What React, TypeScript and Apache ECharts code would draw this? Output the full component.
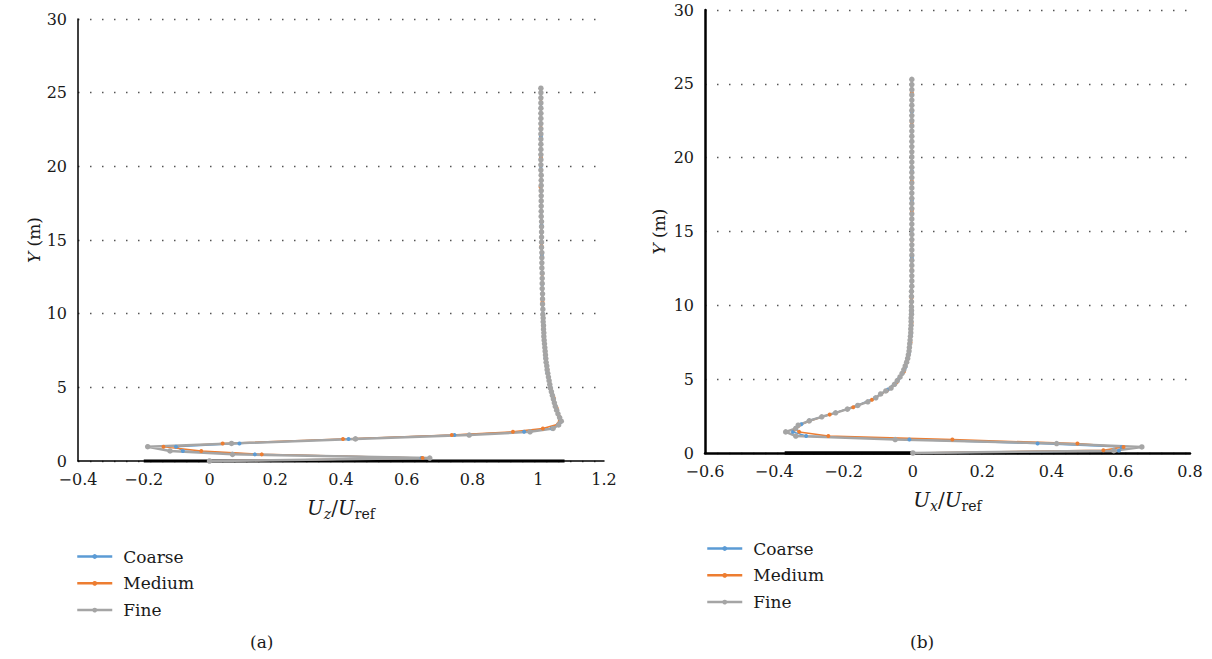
import React, { useEffect, useRef } from "react";
import * as echarts from "echarts";

const seriesNames = ["Coarse", "Medium", "Fine"];
const colors = ["#5B9BD5", "#ED7D31", "#A5A5A5"];
const captions = ["(a)", "(b)"];

// Panel (a): Uz/Uref vs Y
const uzCoarse = [
  [0, 0], [0.645, 0.2], [0.138, 0.45], [-0.081, 0.68], [-0.102, 0.97], [0.091, 1.19], [0.423, 1.5], [0.745, 1.76],
  [0.957, 1.98], [1.041, 2.21], [1.066, 2.6], [1.06, 3.2], [1.048, 4.0], [1.037, 5.0], [1.028, 6.0], [1.022, 7.0],
  [1.017, 8.5], [1.014, 10], [1.012, 12], [1.011, 14], [1.01, 16], [1.009, 18], [1.008, 20], [1.008, 22], [1.008, 24], [1.008, 25.3],
];
const uzMedium = [
  [0, 0], [0.648, 0.2], [0.159, 0.45], [-0.025, 0.68], [-0.14, 0.97], [0.04, 1.19], [0.406, 1.5], [0.737, 1.76],
  [0.923, 1.98], [1.014, 2.21], [1.06, 2.5], [1.064, 3.0], [1.056, 3.6], [1.047, 4.3], [1.036, 5.2], [1.028, 6.2],
  [1.021, 7.4], [1.016, 9.0], [1.013, 10.8], [1.012, 12.7], [1.01, 14.6], [1.009, 16.6], [1.007, 18.6], [1.008, 20.6],
  [1.008, 22.6], [1.008, 24.6], [1.008, 25.3],
];
const uzFine = [
  [0, 0], [0.67, 0.2], [0.07, 0.45], [-0.12, 0.68], [-0.188, 0.97], [0.067, 1.19], [0.444, 1.5], [0.79, 1.76],
  [0.975, 1.98], [1.045, 2.21], [1.062, 2.45], [1.07, 2.7],
  [1.065, 2.95], [1.06, 3.2], [1.056, 3.45], [1.052, 3.7], [1.049, 3.95], [1.046, 4.2], [1.043, 4.45], [1.04, 4.7],
  [1.037, 4.95], [1.035, 5.2], [1.033, 5.45], [1.031, 5.7], [1.029, 5.95], [1.027, 6.2], [1.026, 6.45], [1.024, 6.7],
  [1.023, 6.95], [1.022, 7.2], [1.021, 7.45], [1.02, 7.7], [1.019, 7.95], [1.018, 8.2], [1.017, 8.45], [1.017, 8.7],
  [1.016, 8.95], [1.016, 9.2], [1.015, 9.45], [1.015, 9.7], [1.014, 9.95],
  [1.014, 10.3], [1.013, 10.65], [1.013, 11.0], [1.013, 11.35], [1.012, 11.7], [1.012, 12.05], [1.012, 12.4], [1.012, 12.75],
  [1.011, 13.1], [1.011, 13.45], [1.011, 13.8], [1.011, 14.15], [1.01, 14.5], [1.01, 14.85], [1.01, 15.2], [1.01, 15.55],
  [1.01, 15.9], [1.01, 16.25], [1.009, 16.6], [1.009, 16.95], [1.009, 17.3], [1.009, 17.65], [1.009, 18.0], [1.009, 18.35],
  [1.009, 18.7], [1.009, 19.05], [1.009, 19.4], [1.008, 19.75], [1.008, 20.1], [1.008, 20.45], [1.008, 20.8], [1.008, 21.15],
  [1.008, 21.5], [1.008, 21.85], [1.008, 22.2], [1.008, 22.55], [1.008, 22.9], [1.008, 23.25], [1.008, 23.6], [1.008, 23.95],
  [1.008, 24.3], [1.008, 24.65], [1.008, 25.0], [1.008, 25.3],
];
const uzBaseline = [[-0.2, 0], [1.08, 0]];

// Panel (b): Ux/Uref vs Y
const uxCoarse = [
  [0, 0], [0.595, 0.16], [0.603, 0.41], [0.36, 0.64], [-0.01, 0.91], [-0.308, 1.15], [-0.346, 1.43], [-0.338, 1.7],
  [-0.322, 1.95], [-0.299, 2.2], [-0.223, 2.72], [-0.16, 3.22], [-0.109, 3.74], [-0.072, 4.3], [-0.042, 5.0],
  [-0.022, 5.8], [-0.011, 6.8], [-0.006, 8.0], [-0.004, 9.5], [-0.004, 11.3], [-0.003, 13.2], [-0.003, 15.1],
  [-0.003, 17.1], [-0.003, 19.1], [-0.003, 21.1], [-0.003, 23.1], [-0.003, 25.3],
];
const uxMedium = [
  [0, 0], [0.55, 0.18], [0.608, 0.41], [0.475, 0.64], [0.114, 0.91], [-0.244, 1.15], [-0.328, 1.43], [-0.34, 1.6],
  [-0.33, 1.85], [-0.3, 2.15], [-0.24, 2.6], [-0.172, 3.1], [-0.118, 3.6], [-0.076, 4.2], [-0.046, 4.8], [-0.026, 5.5],
  [-0.014, 6.4], [-0.007, 7.5], [-0.004, 8.8], [-0.004, 10.5], [-0.003, 12.4], [-0.003, 14.4], [-0.003, 16.4],
  [-0.003, 18.4], [-0.003, 20.4], [-0.003, 22.4], [-0.003, 24.4], [-0.003, 25.3],
];
const uxFine = [
  [0, 0], [0.58, 0.16], [0.661, 0.41], [0.415, 0.64], [-0.051, 0.91], [-0.338, 1.15], [-0.367, 1.43], [-0.338, 1.66],
  [-0.331, 1.88], [-0.299, 2.18], [-0.263, 2.45], [-0.223, 2.72], [-0.189, 2.97], [-0.159, 3.22], [-0.13, 3.47],
  [-0.107, 3.74], [-0.093, 4.0], [-0.078, 4.2], [-0.063, 4.4], [-0.053, 4.65], [-0.045, 4.9],
  [-0.037, 5.15], [-0.031, 5.4], [-0.026, 5.65], [-0.022, 5.9], [-0.018, 6.15], [-0.015, 6.4], [-0.013, 6.65],
  [-0.011, 6.9], [-0.01, 7.15], [-0.009, 7.4], [-0.008, 7.65], [-0.007, 7.9], [-0.006, 8.15], [-0.006, 8.4],
  [-0.005, 8.65], [-0.005, 8.9], [-0.005, 9.15], [-0.004, 9.4], [-0.004, 9.65], [-0.004, 9.9],
  [-0.004, 10.25], [-0.004, 10.6], [-0.004, 10.95], [-0.003, 11.3], [-0.003, 11.65], [-0.003, 12.0], [-0.003, 12.35],
  [-0.003, 12.7], [-0.003, 13.05], [-0.003, 13.4], [-0.003, 13.75], [-0.003, 14.1], [-0.003, 14.45], [-0.003, 14.8],
  [-0.003, 15.15], [-0.003, 15.5], [-0.003, 15.85], [-0.003, 16.2], [-0.003, 16.55], [-0.003, 16.9], [-0.003, 17.25],
  [-0.003, 17.6], [-0.003, 17.95], [-0.003, 18.3], [-0.003, 18.65], [-0.003, 19.0], [-0.003, 19.35], [-0.003, 19.7],
  [-0.003, 20.05], [-0.003, 20.4], [-0.003, 20.75], [-0.003, 21.1], [-0.003, 21.45], [-0.003, 21.8], [-0.003, 22.15],
  [-0.003, 22.5], [-0.003, 22.85], [-0.003, 23.2], [-0.003, 23.55], [-0.003, 23.9], [-0.003, 24.25], [-0.003, 24.6],
  [-0.003, 24.95], [-0.003, 25.3],
];
const uxBaseline = [[-0.37, 0], [0, 0]];

const FONT = "DejaVu Serif";
const TEXT = "#1a1a1a";

const fmtTick = (v: number) => {
  const r = Math.round(v * 10) / 10;
  return r < 0 ? "\u2212" + String(Math.abs(r)) : String(r);
};

const xNameRich = {
  u: { fontFamily: FONT, fontSize: 20, fontStyle: "italic", color: TEXT },
  n: { fontFamily: FONT, fontSize: 20, color: TEXT },
  si: { fontFamily: FONT, fontSize: 14, fontStyle: "italic", color: TEXT, padding: [12, 0, 0, 0] },
  s: { fontFamily: FONT, fontSize: 14, color: TEXT, padding: [12, 0, 0, 0] },
};

function makeX(gridIndex: number, min: number, max: number, name: string, axisWidth: number) {
  return {
    type: "value",
    gridIndex,
    min,
    max,
    interval: 0.2,
    name,
    nameLocation: "middle",
    nameGap: 34,
    nameTextStyle: { fontFamily: FONT, rich: xNameRich },
    axisLine: { show: true, onZero: false, lineStyle: { color: "#000", width: axisWidth } },
    axisTick: { show: false },
    splitLine: { show: false },
    axisLabel: { formatter: fmtTick, fontFamily: FONT, fontSize: 16, color: TEXT, margin: 10 },
  };
}

function makeY(gridIndex: number, axisWidth: number, nameGap: number) {
  return {
    type: "value",
    gridIndex,
    min: 0,
    max: 30,
    interval: 5,
    name: "{i|Y} (m)",
    nameLocation: "middle",
    nameGap,
    nameRotate: 90,
    nameTextStyle: {
      fontFamily: FONT,
      fontSize: 17,
      color: TEXT,
      rich: { i: { fontFamily: FONT, fontSize: 17, fontStyle: "italic", color: TEXT } },
    },
    axisLine: { show: true, onZero: false, lineStyle: { color: "#000", width: axisWidth } },
    axisTick: { show: false },
    splitLine: { show: true, lineStyle: { type: [1.5, 10.5], color: "#555", width: 1.3 } },
    axisLabel: { fontFamily: FONT, fontSize: 16, color: TEXT, margin: 11 },
  };
}

function dataSeries(name: string, color: string, data: number[][], idx: number, size: number, width: number) {
  return {
    type: "line",
    name,
    xAxisIndex: idx,
    yAxisIndex: idx,
    data,
    symbol: "circle",
    symbolSize: size,
    showSymbol: true,
    color,
    itemStyle: { color },
    lineStyle: { color, width },
    clip: false,
  };
}

function baseSeries(data: number[][], idx: number, width: number) {
  return {
    type: "line",
    name: "baseline",
    xAxisIndex: idx,
    yAxisIndex: idx,
    data,
    symbol: "none",
    silent: true,
    lineStyle: { color: "#000", width },
    clip: false,
    z: 1,
  };
}

function makeLegend(left: number, top: number) {
  return {
    data: seriesNames,
    orient: "vertical",
    left,
    top,
    itemWidth: 35,
    itemHeight: 6,
    itemGap: 9.8,
    padding: 0,
    lineStyle: { width: 2.5 },
    textStyle: { fontFamily: FONT, fontSize: 17, color: TEXT, padding: [0, 0, 0, 6] },
    selectedMode: false,
  };
}

export default function App() {
  const ref = useRef<HTMLDivElement>(null);
  useEffect(() => {
    if (!ref.current) return;
    const chart = echarts.init(ref.current, null, { renderer: "svg" });
    chart.setOption({
      animation: false,
      backgroundColor: "#fff",
      textStyle: { fontFamily: FONT },
      grid: [
        { left: 78, top: 19, right: 608, bottom: 198 },
        { left: 705, top: 10, right: 22, bottom: 206 },
      ],
      xAxis: [
        makeX(0, -0.4, 1.2, "{u|U}{si|z}{n|/}{u|U}{s|ref}", 1.5),
        makeX(1, -0.6, 0.8, "{u|U}{si|x}{n|/}{u|U}{s|ref}", 2.5),
      ],
      yAxis: [makeY(0, 1.5, 33), makeY(1, 2.5, 38)],
      legend: [makeLegend(76, 548), makeLegend(706, 540)],
      graphic: [
        { type: "text", left: 250, top: 633, style: { text: captions[0], fontFamily: FONT, fontSize: 17, fill: TEXT } },
        { type: "text", left: 910, top: 633, style: { text: captions[1], fontFamily: FONT, fontSize: 17, fill: TEXT } },
      ],
      series: [
        baseSeries(uzBaseline, 0, 3),
        dataSeries(seriesNames[0], colors[0], uzCoarse, 0, 4, 1.5),
        dataSeries(seriesNames[1], colors[1], uzMedium, 0, 4, 1.5),
        dataSeries(seriesNames[2], colors[2], uzFine, 0, 5.5, 2.5),
        baseSeries(uxBaseline, 1, 3.5),
        dataSeries(seriesNames[0], colors[0], uxCoarse, 1, 4, 1.5),
        dataSeries(seriesNames[1], colors[1], uxMedium, 1, 4, 1.5),
        dataSeries(seriesNames[2], colors[2], uxFine, 1, 5.5, 2.5),
      ],
    });
    return () => chart.dispose();
  }, []);
  return (
    <div
      ref={ref}
      style={{ position: "fixed", left: 0, top: 0, width: 1212, height: 659, background: "#fff" }}
    />
  );
}
